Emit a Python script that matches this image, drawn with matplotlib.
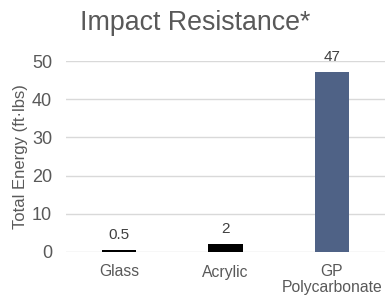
import matplotlib.pyplot as plt
import numpy as np

categories = ['Glass', 'Acrylic', 'GP\nPolycarbonate']
energy = [0.5, 2, 47]
value_labels = ['0.5', '2', '47']
bar_colors = ['#000000', '#000000', '#4f6286']

plt.rcParams['font.family'] = ['Liberation Sans', 'DejaVu Sans']

fig = plt.figure(figsize=(3.85, 2.95), dpi=100)
ax = fig.add_axes([66 / 385, 1 - 252 / 295, 319 / 385, (252 - 61) / 295])

x = np.arange(len(categories))
ax.bar(x, energy, width=0.32, color=bar_colors, zorder=3)

for xi, v, lab in zip(x, energy, value_labels):
    ax.annotate(lab, (xi, v), xytext=(0, 6), textcoords='offset points',
                ha='center', va='bottom', fontsize=11, color='#404040')

ax.set_xlim(-0.5, 2.5)
ax.set_ylim(0, 50)
ax.set_yticks([0, 10, 20, 30, 40, 50])
ax.set_xticks(x)
ax.set_xticklabels(categories, fontsize=11.3, color='#595959', linespacing=1.05)
ax.tick_params(axis='y', labelsize=13, labelcolor='#595959', length=0, pad=10)
ax.tick_params(axis='x', length=0, pad=9)
ax.grid(axis='y', color='#d9d9d9', linewidth=1, zorder=0)
for s in ax.spines.values():
    s.set_visible(False)

ax.set_ylabel('Total Energy (ft·lbs)', fontsize=12, color='#595959', labelpad=3)
fig.text(195 / 385, 1 - 23 / 295, 'Impact Resistance*', ha='center', va='center',
         fontsize=19.3, color='#595959')

fig.savefig('out.png', dpi=100)
